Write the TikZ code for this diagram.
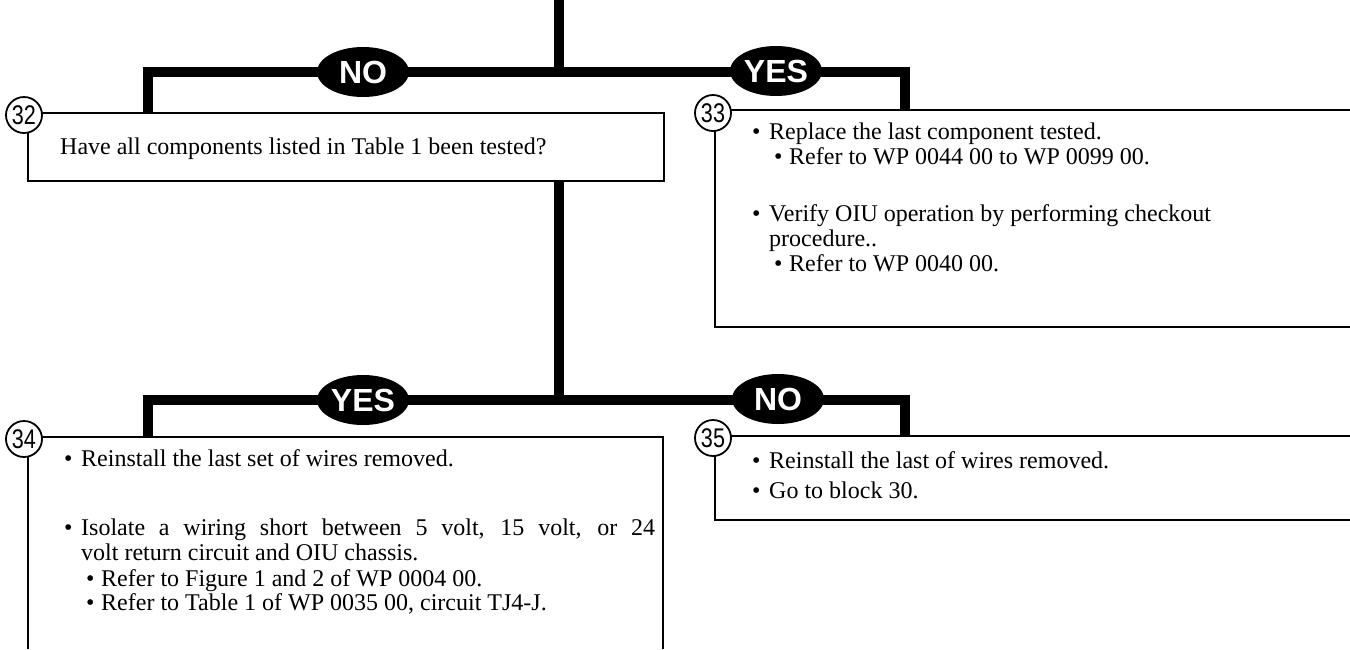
\documentclass[tikz,border=0pt]{standalone}
\usepackage{fontspec}
\setmainfont{Liberation Serif}
\newfontfamily\labfont{Liberation Sans}
\newfontfamily\numfont[FakeStretch=0.8]{Liberation Sans}
\usetikzlibrary{shapes.geometric}
\begin{document}
\begin{tikzpicture}[x=1pt,y=-1pt,
  flow/.style={line width=9.5pt},
  boxline/.style={line width=1.8pt},
  tag/.style={ellipse, fill=black, minimum width=92pt, minimum height=50pt, inner sep=0pt, text=white, font=\labfont\bfseries\fontsize{32}{32}\selectfont},
  num/.style={circle, draw, line width=1.8pt, fill=white, minimum size=36pt, inner sep=0pt, font=\numfont\fontsize{27}{27}\selectfont},
  txt/.style={anchor=base west, inner sep=0pt, font=\fontsize{24}{25}\selectfont}
]
\useasboundingbox (0,0) rectangle (1350,649);
% coordinates of the flow lines
\coordinate (top) at (559,0);
\coordinate (j1) at (559,72);
\coordinate (l1) at (148,72);
\coordinate (r1) at (905,72);
\coordinate (in32) at (148,112);
\coordinate (in33) at (905,110);
\coordinate (out32) at (559,180);
\coordinate (j2) at (559,400);
\coordinate (l2) at (148,400);
\coordinate (r2) at (905,400);
\coordinate (in34) at (148,437);
\coordinate (in35) at (905,436);
\coordinate (e33) at (1350,110);
\coordinate (e33b) at (1350,327);
\coordinate (e34) at (663,649);
\coordinate (e34b) at (28,649);
\coordinate (e35) at (1350,436);
\coordinate (e35b) at (1350,520);

% boxes
\node[draw, boxline, anchor=north west, minimum width=636pt, minimum height=68pt, inner sep=0pt] (b32) at (27,112) {};
\draw[boxline] (e33) -- (715,110) -- (715,327) -- (e33b);
\draw[boxline] (e34b) -- (28,437) -- (663,437) -- (e34);
\draw[boxline] (e35) -- (715,436) -- (715,520) -- (e35b);

% flow lines
\draw[flow] (top) -- (j1);
\draw[flow] (in32) -- (l1) -- (r1) -- (in33);
\draw[flow] (out32) -- (j2);
\draw[flow] (in34) -- (l2) -- (r2) -- (in35);

% decision labels
\node[tag] (no1) at (363,72) {NO};
\node[tag] (yes1) at (776,71) {YES};
\node[tag] (yes2) at (363,400) {YES};
\node[tag] (no2) at (778,399) {NO};

% block numbers
\node[num] (n32) at (24,115) {32};
\node[num] (n33) at (713,113) {33};
\node[num] (n34) at (24,439) {34};
\node[num] (n35) at (713,438) {35};

% texts
\node[txt] (t32) at (60,154) {Have all components listed in Table 1 been tested?};

\node[txt] (d33a) at (752,139) {\textbullet};
\node[txt] (t33a) at (769,139) {Replace the last component tested.};
\node[txt] (d33b) at (774,164) {\textbullet};
\node[txt] (t33b) at (789,164) {Refer to WP 0044 00 to WP 0099 00.};
\node[txt] (d33c) at (752,221) {\textbullet};
\node[txt] (t33c) at (769,221) {Verify OIU operation by performing checkout};
\node[txt] (t33d) at (769,246) {procedure..};
\node[txt] (d33e) at (774,271) {\textbullet};
\node[txt] (t33e) at (789,271) {Refer to WP 0040 00.};

\node[txt] (d34a) at (64,466) {\textbullet};
\node[txt] (t34a) at (81,466) {Reinstall the last set of wires removed.};
\node[txt] (d34b) at (64,535) {\textbullet};
\node[txt] (t34b) at (81,535) {\parbox[t]{574pt}{Isolate a wiring short between 5 volt, 15 volt, or 24\linebreak volt return circuit and OIU chassis.}};
\node[txt] (d34c) at (86,586) {\textbullet};
\node[txt] (t34c) at (101,586) {Refer to Figure 1 and 2 of WP 0004 00.};
\node[txt] (d34d) at (86,610) {\textbullet};
\node[txt] (t34d) at (101,610) {Refer to Table 1 of WP 0035 00, circuit TJ4-J.};

\node[txt] (d35a) at (752,468) {\textbullet};
\node[txt] (t35a) at (769,468) {Reinstall the last of wires removed.};
\node[txt] (d35b) at (752,498) {\textbullet};
\node[txt] (t35b) at (769,498) {Go to block 30.};
\end{tikzpicture}
\end{document}
